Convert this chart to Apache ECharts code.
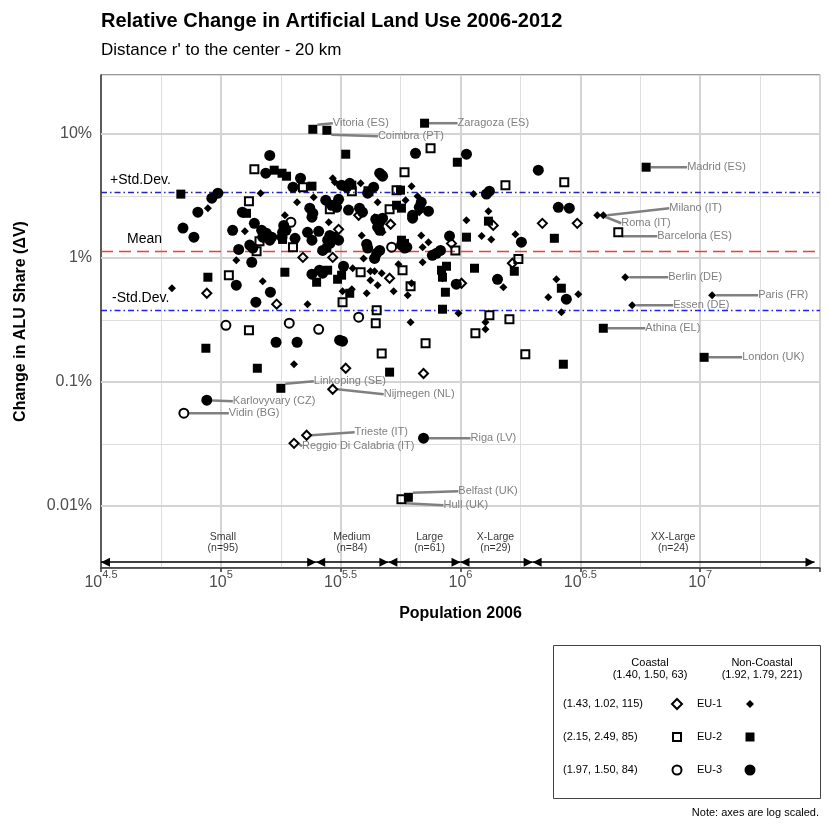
<!DOCTYPE html>
<html>
<head>
<meta charset="utf-8">
<script src="https://cdn.jsdelivr.net/npm/echarts@6/dist/echarts.min.js"></script>
<style>html,body{margin:0;padding:0;background:#fff}#c{width:830px;height:830px}</style>
</head>
<body>
<div id="c"></div>
<script>
// ---------------- DATA ----------------
// [population 2006, change in ALU share in %]
const eu1Coastal = [[87.4e3,0.519],[171e3,0.424],[376e3,2.21],[511e3,1.87],[310e3,1.70],[220e3,1.01],[293e3,1.01],[506e3,0.686],[332e3,0.129],[1370e3,1.83],[2196e3,1.90],[3070e3,1.90],[917e3,1.31],[1646e3,0.906],[1010e3,0.625],[701e3,0.117]];
const eu1Inland = [[88.3e3,2.52],[146.5e3,3.33],[126e3,1.64],[185e3,2.21],[116e3,0.96],[149.5e3,0.649],[62.5e3,0.570],[202e3,0.139],[293e3,4.39],[299e3,4.08],[383e3,4.0],[451e3,2.81],[590e3,2.92],[208e3,2.81],[244e3,3.09],[282e3,1.94],[387e3,1.52],[394e3,0.99],[355e3,0.826],[421e3,0.781],[438e3,0.781],[469e3,0.753],[421e3,0.661],[451e3,0.603],[526e3,0.540],[322e3,0.540],[352e3,0.560],[406e3,0.519],[230e3,0.424],[551e3,0.889],[447e3,1.05],[619e3,0.303],[438e3,2.13],[473e3,1.61],[625e3,3.79],[1133e3,3.27],[662e3,3.14],[673e3,2.34],[1308e3,2.38],[1059e3,2.01],[686e3,1.52],[735e3,1.34],[695e3,1.22],[1225e3,1.50],[1344e3,1.41],[1695e3,1.55],[695e3,0.923],[841e3,0.686],[625e3,0.625],[602e3,0.50],[1510e3,0.581],[2512e3,0.673],[2325e3,0.482],[981e3,0.358],[1271e3,0.303],[1271e3,0.266],[2637e3,0.365],[3101e3,0.509]];
const eu2Coastal = [[138e3,5.19],[131e3,2.87],[145e3,1.36],[141e3,1.13],[108e3,0.726],[131e3,0.261],[220e3,3.72],[352e3,3.45],[413e3,3.45],[584e3,4.91],[541e3,3.52],[285e3,2.47],[506e3,2.47],[200e3,1.22],[383e3,0.767],[573e3,0.796],[322e3,0.44],[447e3,0.379],[443e3,0.298],[469e3,0.170],[715e3,0.205],[750e3,7.67],[1540e3,3.86],[2710e3,4.08],[952e3,1.15],[1744e3,0.98],[619e3,0.592],[1320e3,0.345],[1600e3,0.321],[1154e3,0.247],[1864e3,0.167]];
const eu2Inland = [[167e3,5.10],[180e3,4.82],[188e3,4.56],[68.1e3,3.27],[128e3,2.29],[181e3,1.41],[185e3,0.767],[88.3e3,0.699],[86.6e3,0.187],[142e3,0.129],[332e3,6.86],[240e3,3.79],[352e3,3.86],[562e3,3.52],[541e3,2.66],[567e3,2.52],[277e3,1.20],[279e3,0.796],[307e3,0.673],[319e3,0.726],[345e3,0.519],[506e3,0.120],[251e3,0.637],[970e3,5.91],[1308e3,1.98],[567e3,1.39],[584e3,1.31],[1059e3,1.47],[2464e3,1.44],[874e3,0.857],[833e3,0.796],[841e3,0.699],[1677e3,0.781],[1144e3,0.826],[865e3,0.529],[841e3,0.386],[2635e3,0.570],[2686e3,0.139]];
const eu3Coastal = [[105e3,0.286],[193e3,0.298],[196e3,1.94],[516e3,1.22],[376e3,0.333],[256e3,0.266]];
const eu3Inland = [[160e3,6.7],[154e3,4.82],[97.2e3,3.33],[91.7e3,3.03],[80.2e3,2.34],[69.5e3,1.74],[77.2e3,1.47],[112e3,1.67],[138e3,1.90],[148e3,1.67],[155e3,1.58],[163e3,1.47],[160e3,1.39],[149.5e3,1.47],[183e3,1.83],[187e3,1.67],[118.7e3,1.17],[132e3,1.27],[136e3,1.20],[134.6e3,0.923],[116e3,0.603],[161e3,0.529],[140e3,0.44],[170e3,0.209],[208e3,0.209],[313e3,0.217],[215e3,4.39],[200e3,3.72],[319e3,3.86],[345e3,4.0],[335e3,3.72],[434e3,3.72],[410e3,3.33],[460e3,4.82],[473e3,4.56],[274e3,2.92],[290e3,2.66],[304e3,2.56],[310e3,2.97],[235e3,2.52],[240e3,2.13],[242e3,2.29],[341e3,2.43],[379e3,2.52],[390e3,2.34],[443e3,2.05],[460e3,1.94],[473e3,2.09],[451e3,1.77],[460e3,1.67],[181e3,1.61],[180e3,1.47],[256e3,1.64],[285e3,1.52],[299e3,1.47],[279e3,1.39],[285e3,1.31],[310e3,1.39],[240e3,1.39],[204e3,1.44],[230e3,1.61],[266e3,1.15],[406e3,1.29],[410e3,1.20],[447e3,1.09],[460e3,1.15],[438e3,0.99],[567e3,1.27],[584e3,1.20],[240e3,0.739],[258e3,0.796],[266e3,0.753],[325e3,0.857],[322e3,0.213],[469e3,4.65],[649e3,6.98],[1059e3,6.86],[2112e3,5.10],[1320e3,3.45],[1283e3,3.27],[686e3,2.81],[673e3,2.56],[735e3,2.38],[631e3,2.21],[631e3,2.09],[2560e3,2.56],[2845e3,2.52],[900e3,1.50],[1795e3,1.34],[794e3,1.09],[825e3,1.15],[763e3,1.05],[960e3,0.614],[1427e3,0.673],[2765e3,0.465],[597e3,1.22],[123e3,2.34]];

// labelled cities
const cityNames = ['Vitoria (ES)','Coimbra (PT)','Zaragoza (ES)','Madrid (ES)','Milano (IT)','Roma (IT)','Barcelona (ES)','Berlin (DE)','Paris (FR)','Essen (DE)','Athina (EL)','London (UK)','Karlovyvary (CZ)','Vidin (BG)','Linkoping (SE)','Nijmegen (NL)','Trieste (IT)','Reggio Di Calabria (IT)','Riga (LV)','Belfast (UK)','Hull (UK)'];
const cityGroup = ['eu2n','eu2n','eu2n','eu2n','eu1n','eu1n','eu2c','eu1n','eu1n','eu1n','eu2n','eu2n','eu3n','eu3c','eu2n','eu1c','eu1c','eu1c','eu3n','eu2n','eu2c'];
const cityPop = [242e3,277e3,708e3,5950e3,3943e3,3720e3,4553e3,4870e3,11220e3,5205e3,3943e3,10390e3,87.4e3,70.1e3,178e3,293e3,228e3,202e3,701e3,606e3,567e3];
const cityPct = [10.9,10.7,12.2,5.39,2.21,2.21,1.61,0.699,0.50,0.416,0.271,0.158,0.0713,0.056,0.0889,0.0873,0.0372,0.0320,0.0352,0.01175,0.01132];

// reference lines (% change)
const refMean = 1.13, refPlusSD = 3.39, refMinusSD = 0.379;
const refNames = ['+Std.Dev.', 'Mean', '-Std.Dev.'];

// size classes
const sizeClassNames = ['Small','Medium','Large','X-Large','XX-Large'];
const sizeClassN = [95,84,61,29,24];
const sizeClassBounds = [31623, 250000, 500000, 1000000, 2000000, 30000000];
const sizeClassLabelPop = [102000, 352000, 743000, 1400000, 7720000];

// ticks
const xTickExps = [4.5, 5, 5.5, 6, 6.5, 7];
const yTickValues = [0.01, 0.1, 1, 10];
const yTickLabels = ['0.01%', '0.1%', '1%', '10%'];

// legend texts
const legendColHeads = ['Coastal', 'Non-Coastal'];
const legendColStats = ['(1.40, 1.50, 63)', '(1.92, 1.79, 221)'];
const legendRowNames = ['EU-1', 'EU-2', 'EU-3'];
const legendRowStats = ['(1.43, 1.02, 115)', '(2.15, 2.49, 85)', '(1.97, 1.50, 84)'];

// ---------------- STYLE ----------------
const FONT = '"Liberation Sans", Arial, Helvetica, sans-serif';
const X_MIN = Math.pow(10, 4.5), X_MAX = Math.pow(10, 7.5);
const Y_MIN = Math.pow(10, -2.5), Y_MAX = Math.pow(10, 1.475);
const CLASS_ARROW_Y = 0.00352;
const CLASS_LABEL_Y = 0.00509;
// label offsets (px) from the point centre to the label's left-middle
const cityLabelOffset = [[20,-6],[51,6],[33,0],[41,0],[66,-7],[24,8],[39,4],[43,0],[46,0],[41,0],[42,0],[38,0],[26,1],[45,0],[33,-7],[51,5],[48,-3],[8,3],[47,0],[50,-6],[42,6]];

const groupDefs = [
  {key:'eu1c', pts:eu1Coastal, symbol:'diamond', size:9, open:true},
  {key:'eu2c', pts:eu2Coastal, symbol:'rect', size:8, open:true},
  {key:'eu3c', pts:eu3Coastal, symbol:'circle', size:9, open:true},
  {key:'eu1n', pts:eu1Inland, symbol:'diamond', size:8, open:false},
  {key:'eu2n', pts:eu2Inland, symbol:'rect', size:9, open:false},
  {key:'eu3n', pts:eu3Inland, symbol:'circle', size:11, open:false}
];

const offsetLookup = {};
const series = [];
groupDefs.forEach(function (g, si) {
  const data = g.pts.map(function (p) { return {value: [p[0], p[1]]}; });
  offsetLookup[si] = {};
  cityNames.forEach(function (nm, ci) {
    if (cityGroup[ci] !== g.key) return;
    offsetLookup[si][data.length] = cityLabelOffset[ci];
    data.push({
      value: [cityPop[ci], cityPct[ci]],
      name: nm,
      label: {show: true, formatter: nm},
      labelLine: {show: true}
    });
  });
  series.push({
    type: 'scatter',
    xAxisIndex: 1, yAxisIndex: 0,
    z: 5,
    silent: true,
    symbol: g.symbol,
    symbolSize: g.size,
    itemStyle: g.open ? {color: 'rgba(0,0,0,0)', borderColor: '#000', borderWidth: 2, opacity: 1} : {color: '#000', opacity: 1},
    label: {show: false, position: 'right', color: '#7f7f7f', fontSize: 11, fontFamily: FONT},
    labelLine: {show: true, lineStyle: {color: '#808080', width: 2.5}},
    labelLayout: function (p) {
      const off = offsetLookup[p.seriesIndex] && offsetLookup[p.seriesIndex][p.dataIndex];
      if (!off) return {};
      return {
        x: p.rect.x + p.rect.width / 2 + off[0],
        y: p.rect.y + p.rect.height / 2 + off[1],
        align: 'left', verticalAlign: 'middle'
      };
    },
    emphasis: {disabled: true},
    data: data
  });
});

// major y grid lines
series.push({
  type: 'line', xAxisIndex: 1, yAxisIndex: 0, z: 1, silent: true, data: [],
  markLine: {
    silent: true, symbol: 'none', animation: false,
    label: {show: false},
    lineStyle: {color: '#d4d4d4', width: 2, type: 'solid'},
    emphasis: {disabled: true},
    data: yTickValues.map(function (v) { return {yAxis: v}; })
  }
});

// mean / std lines
const refLabelStyle = {show: true, position: 'insideStartTop', color: '#000', fontSize: 14, fontFamily: FONT};
series.push({
  type: 'line', xAxisIndex: 1, yAxisIndex: 0, z: 2, silent: true, data: [],
  markLine: {
    silent: true, symbol: 'none', animation: false,
    emphasis: {disabled: true},
    data: [
      {yAxis: refPlusSD, lineStyle: {color: '#2626b8', width: 1.3, type: [6, 3, 1.5, 3]},
        label: Object.assign({}, refLabelStyle, {formatter: refNames[0], distance: [9, 5]})},
      {yAxis: refMean, lineStyle: {color: '#f03c3c', width: 1.3, type: [12, 6]},
        label: Object.assign({}, refLabelStyle, {formatter: refNames[1], distance: [26, 5]})},
      {yAxis: refMinusSD, lineStyle: {color: '#2020ff', width: 1.3, type: [6, 3, 1.5, 3]},
        label: Object.assign({}, refLabelStyle, {formatter: refNames[2], distance: [11, 5]})}
    ]
  }
});

// size class arrows
series.push({
  type: 'line', xAxisIndex: 1, yAxisIndex: 0, z: 3, silent: true, data: [],
  markLine: {
    silent: true, animation: false,
    symbol: ['triangle', 'triangle'], symbolSize: 9,
    symbolOffset: [[0, '50%'], [0, '50%']],
    label: {show: false},
    lineStyle: {color: '#000', width: 1.5, type: 'solid'},
    emphasis: {disabled: true},
    data: sizeClassNames.map(function (n, i) {
      return [{coord: [sizeClassBounds[i], CLASS_ARROW_Y]}, {coord: [sizeClassBounds[i + 1], CLASS_ARROW_Y]}];
    })
  }
});

// size class labels
series.push({
  type: 'scatter', xAxisIndex: 1, yAxisIndex: 0, z: 3, silent: true,
  symbolSize: 0,
  label: {show: true, position: 'inside', color: '#000', fontSize: 10.5, lineHeight: 11.5, fontFamily: FONT,
    formatter: function (p) { return sizeClassNames[p.dataIndex] + '\n(n=' + sizeClassN[p.dataIndex] + ')'; }},
  emphasis: {disabled: true},
  data: sizeClassLabelPop.map(function (p) { return [p, CLASS_LABEL_Y]; })
});

function fmtX(v) {
  const e = Math.round(Math.log10(v) * 100) / 100;
  for (let i = 0; i < xTickExps.length; i++) {
    if (Math.abs(xTickExps[i] - e) < 1e-6) return '{b|10}{s|' + xTickExps[i] + '}';
  }
  return '';
}
function fmtY(v) {
  const e = Math.log10(v);
  for (let i = 0; i < yTickValues.length; i++) {
    if (Math.abs(Math.log10(yTickValues[i]) - e) < 1e-6) return yTickLabels[i];
  }
  return '';
}

// legend graphic
const LX = 553, LY = 645, LW = 267, LH = 153;
const rowY = [704, 737, 770];
const openX = 677, fillX = 750, euX = 697;
const lt = function (x, y, text, align) {
  return {type: 'text', x: x, y: y, style: {text: text, fill: '#000', fontSize: 11, fontFamily: FONT, align: align || 'left', verticalAlign: 'middle'}};
};
const graphics = [
  {type: 'rect', shape: {x: LX + 0.5, y: LY + 0.5, width: LW, height: LH}, style: {fill: '#fff', stroke: '#444', lineWidth: 1}},
  lt(650, 663, legendColHeads[0], 'center'), lt(650, 675, legendColStats[0], 'center'),
  lt(762, 663, legendColHeads[1], 'center'), lt(762, 675, legendColStats[1], 'center')
];
legendRowNames.forEach(function (n, i) {
  graphics.push(lt(563, rowY[i], legendRowStats[i], 'left'));
  graphics.push(lt(euX, rowY[i], n, 'left'));
});
graphics.push({type: 'polygon', shape: {points: [[openX, rowY[0] - 5], [openX + 5, rowY[0]], [openX, rowY[0] + 5], [openX - 5, rowY[0]]]}, style: {fill: 'none', stroke: '#000', lineWidth: 2}});
graphics.push({type: 'polygon', shape: {points: [[fillX, rowY[0] - 4], [fillX + 4, rowY[0]], [fillX, rowY[0] + 4], [fillX - 4, rowY[0]]]}, style: {fill: '#000'}});
graphics.push({type: 'rect', shape: {x: openX - 4, y: rowY[1] - 4, width: 8, height: 8}, style: {fill: 'none', stroke: '#000', lineWidth: 2}});
graphics.push({type: 'rect', shape: {x: fillX - 4.5, y: rowY[1] - 4.5, width: 9, height: 9}, style: {fill: '#000'}});
graphics.push({type: 'circle', shape: {cx: openX, cy: rowY[2], r: 4.5}, style: {fill: 'none', stroke: '#000', lineWidth: 2}});
graphics.push({type: 'circle', shape: {cx: fillX, cy: rowY[2], r: 5.5}, style: {fill: '#000'}});
graphics.push({type: 'text', x: 819, y: 813, style: {text: 'Note: axes are log scaled.', fill: '#000', fontSize: 11, fontFamily: FONT, align: 'right', verticalAlign: 'middle'}});

const chart = echarts.init(document.getElementById('c'), null, {renderer: 'canvas'});
chart.setOption({
  animation: false,
  backgroundColor: '#fff',
  textStyle: {fontFamily: FONT},
  title: [
    {text: 'Relative Change in Artificial Land Use 2006-2012', left: 101, top: 11, padding: 0,
      textStyle: {fontSize: 20, fontWeight: 'bold', color: '#000', fontFamily: FONT}},
    {text: "Distance r' to the center - 20 km", left: 101, top: 42, padding: 0,
      textStyle: {fontSize: 17, fontWeight: 'normal', color: '#000', fontFamily: FONT}}
  ],
  grid: {left: 101, right: 10, top: 75, bottom: 262, show: true, borderColor: '#333', borderWidth: 1, backgroundColor: 'transparent', containLabel: false, outerBoundsMode: 'none'},
  xAxis: [
    {type: 'log', logBase: 10, min: X_MIN, max: X_MAX, interval: 0.25, position: 'bottom',
      axisLine: {show: false}, axisTick: {show: false}, axisLabel: {show: false},
      splitLine: {show: true, lineStyle: {color: '#dedede', width: 1}}},
    {type: 'log', logBase: 10, min: X_MIN, max: X_MAX, interval: 0.5, position: 'bottom',
      name: 'Population 2006', nameLocation: 'middle', nameGap: 38,
      nameTextStyle: {fontSize: 16, fontWeight: 'bold', color: '#000', fontFamily: FONT},
      axisLine: {show: true, onZero: false, lineStyle: {color: '#333', width: 1.5}},
      axisTick: {show: true, length: 4, lineStyle: {color: '#333', width: 1.5}},
      axisLabel: {margin: 1, formatter: fmtX, rich: {
        b: {fontSize: 16, color: '#4d4d4d', fontFamily: FONT, verticalAlign: 'bottom', lineHeight: 22},
        s: {fontSize: 11, color: '#4d4d4d', fontFamily: FONT, verticalAlign: 'top', lineHeight: 22}
      }},
      splitLine: {show: true, lineStyle: {color: '#d4d4d4', width: 2}}}
  ],
  yAxis: [
    {type: 'log', logBase: 10, min: Y_MIN, max: Y_MAX, interval: 0.5,
      name: 'Change in ALU Share (\u0394V)', nameLocation: 'middle', nameGap: 72, nameRotate: 90,
      nameTextStyle: {fontSize: 16, fontWeight: 'bold', color: '#000', fontFamily: FONT},
      axisLine: {show: true, onZero: false, lineStyle: {color: '#333', width: 1.5}},
      axisTick: {show: false},
      axisLabel: {margin: 9, fontSize: 16, color: '#4d4d4d', fontFamily: FONT, formatter: fmtY},
      splitLine: {show: true, lineStyle: {color: '#dedede', width: 1}}}
  ],
  graphic: {elements: graphics},
  series: series
});
</script>
</body>
</html>
